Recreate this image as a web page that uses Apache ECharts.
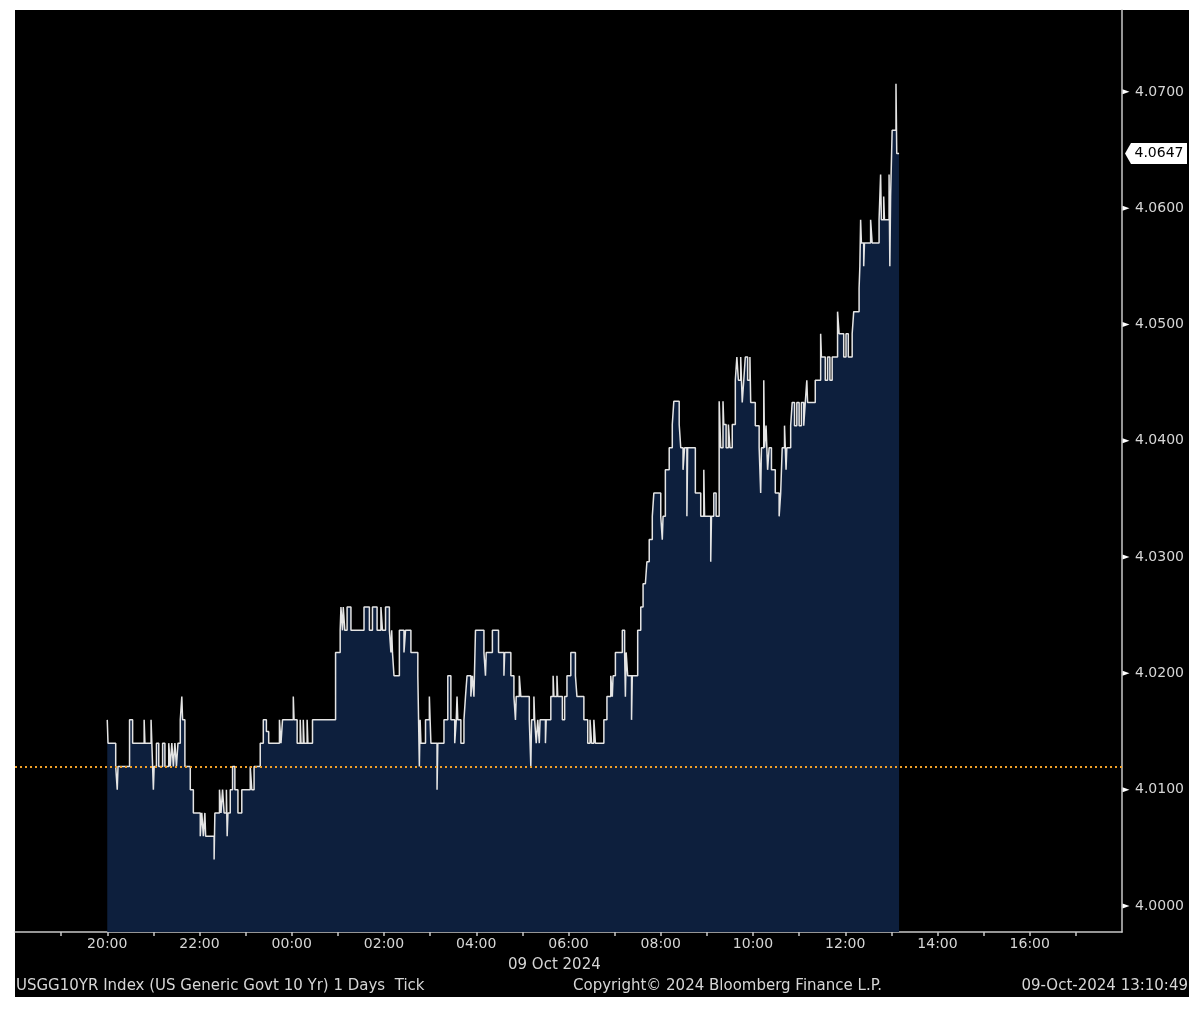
<!DOCTYPE html>
<html>
<head>
<meta charset="utf-8">
<script src="https://cdn.jsdelivr.net/npm/echarts@6/dist/echarts.min.js"></script>
<style>
  html, body { margin:0; padding:0; background:#ffffff; }
  #bg { position:absolute; left:15px; top:10px; width:1174px; height:987px; background:#000000; }
  #chart { position:absolute; left:0; top:0; width:1200px; height:1021px; }
</style>
</head>
<body>
<div id="bg"></div>
<div id="chart"></div>
<script>
// Tick times (local clock, session starts 20:00 on 08 Oct, ends 13:10 on 09 Oct)
const times = [
 '20:00','20:01','20:11','20:13','20:14','20:29','20:33','20:48','20:49','20:57','20:58',
 '21:00','21:01','21:04','21:07','21:12','21:15','21:20','21:22','21:24','21:26','21:28','21:30','21:32','21:35','21:37','21:38','21:41','21:48','21:52',
 '22:01','22:03','22:05','22:07','22:08','22:19','22:20','22:26','22:28','22:30','22:32','22:35','22:36','22:37','22:40','22:43','22:46','22:50','22:55',
 '23:06','23:08','23:11','23:19','23:23','23:27','23:30','23:44','23:46','23:48',
 '00:02','00:03','00:07','00:11','00:12','00:15','00:16','00:20','00:21','00:27','00:57',
 '01:03','01:04','01:06','01:07','01:09','01:12','01:17','01:34','01:41','01:45','01:51','01:56','01:58',
 '02:02','02:07','02:09','02:10','02:11','02:13','02:20','02:26','02:28','02:35','02:44','02:46','02:47','02:48','02:54','02:59',
 '03:00','03:01','03:09','03:10','03:18','03:23','03:27','03:32','03:34','03:35','03:36','03:40','03:44','03:46','03:48','03:53','03:55','03:57','03:59',
 '04:10','04:12','04:13','04:21','04:29','04:36','04:37','04:45','04:49','04:51','04:52','04:56','04:58',
 '05:09','05:11','05:12','05:15','05:16','05:18','05:20','05:22','05:23','05:30','05:31','05:37','05:40','05:41','05:45','05:46','05:52','05:55','05:58',
 '06:03','06:09','06:11','06:20','06:25','06:28','06:30','06:33','06:35','06:46','06:50','06:55','06:57','06:58',
 '07:01','07:10','07:13','07:14','07:15','07:17','07:22','07:23','07:30','07:34','07:37','07:40','07:42','07:45','07:49','07:51',
 '08:00','08:02','08:03','08:06','08:11','08:15','08:17','08:24','08:26','08:29','08:31','08:34','08:35','08:45','08:52','08:56','08:57',
 '09:05','09:06','09:09','09:12','09:16','09:18','09:21','09:22','09:25','09:28','09:30','09:33','09:37','09:39','09:41','09:44','09:46','09:48','09:50','09:53','09:56','09:57',
 '10:03','10:08','10:10','10:11','10:14','10:15','10:17','10:19','10:21','10:24','10:29','10:34','10:36','10:38','10:41','10:43','10:44','10:49','10:51','10:54','10:57',
 '11:00','11:03','11:06','11:08','11:10','11:11','11:21','11:28','11:29','11:34','11:37','11:40','11:43','11:50','11:52','11:58',
 '12:01','12:04','12:09','12:11','12:18','12:19','12:20','12:21','12:24','12:25','12:33','12:35','12:44','12:46','12:47','12:50','12:51','12:57','12:58','12:59',
 '13:01','13:06','13:07','13:10'
];
// Yield at each tick time (held until the next tick)
const yields = [
 4.016,4.014,4.012,4.010,4.012,4.016,4.014,4.016,4.014,4.016,4.014,
 4.010,4.012,4.014,4.012,4.014,4.012,4.014,4.012,4.014,4.012,4.014,4.012,4.014,4.016,4.018,4.016,4.012,4.010,4.008,
 4.006,4.008,4.006,4.008,4.006,4.004,4.008,4.010,4.008,4.010,4.008,4.010,4.006,4.008,4.010,4.012,4.010,4.008,4.010,
 4.012,4.010,4.012,4.014,4.016,4.015,4.014,4.016,4.014,4.016,
 4.018,4.016,4.014,4.016,4.014,4.016,4.014,4.016,4.014,4.016,4.0218,
 4.0237,4.0257,4.0237,4.0257,4.0237,4.0257,4.0237,4.0257,4.0237,4.0257,4.0237,4.0257,4.0237,
 4.0257,4.0237,4.0218,4.0237,4.0218,4.0198,4.0237,4.0218,4.0237,4.0218,4.0198,4.012,4.016,4.014,4.016,4.018,
 4.016,4.014,4.010,4.014,4.016,4.0198,4.016,4.014,4.016,4.018,4.016,4.014,4.016,4.018,4.0198,4.018,4.0198,4.018,4.0237,
 4.0218,4.0198,4.0218,4.0237,4.0218,4.0198,4.0218,4.0198,4.018,4.016,4.018,4.0198,4.018,
 4.016,4.012,4.016,4.018,4.016,4.014,4.016,4.014,4.016,4.014,4.016,4.018,4.0198,4.018,4.0198,4.018,4.016,4.018,4.0198,
 4.0218,4.0198,4.018,4.016,4.014,4.016,4.014,4.016,4.014,4.016,4.018,4.0198,4.018,4.0198,
 4.0218,4.0237,4.0218,4.018,4.0218,4.0198,4.016,4.0198,4.0237,4.0257,4.0277,4.0277,4.0296,4.0315,4.0335,4.0355,
 4.0335,4.0315,4.0335,4.0375,4.0394,4.0414,4.0434,4.0414,4.0394,4.0375,4.0394,4.0335,4.0394,4.0355,4.0335,4.0375,4.0335,
 4.0296,4.0335,4.0355,4.0335,4.0434,4.0394,4.0434,4.0414,4.0394,4.0414,4.0394,4.0414,4.0452,4.0472,4.0452,4.0472,4.0433,4.0452,4.0472,4.0452,4.0472,4.0433,
 4.0413,4.0394,4.0355,4.0394,4.0452,4.0394,4.0413,4.0375,4.0394,4.0375,4.0355,4.0335,4.0355,4.0394,4.0413,4.0375,4.0394,4.0413,4.0433,4.0413,4.0433,
 4.0413,4.0433,4.0413,4.0433,4.0452,4.0433,4.0452,4.0492,4.0472,4.0452,4.0472,4.0452,4.0472,4.0511,4.0492,4.0472,
 4.0492,4.0472,4.0492,4.0511,4.0531,4.055,4.059,4.057,4.055,4.057,4.059,4.057,4.059,4.0629,4.059,4.061,4.059,4.0629,4.055,4.061,
 4.0667,4.0707,4.0647,4.0647
];
const yTickValues = [4.00, 4.01, 4.02, 4.03, 4.04, 4.05, 4.06, 4.07];
const prevClose = 4.012;
const lastYield = 4.0647;
const axisStartHour = 18;          // x axis runs 18:00 -> 18:00 next day
const dateLabel = '09 Oct 2024';
const footerLeft = 'USGG10YR Index (US Generic Govt 10 Yr) 1 Days  Tick';
const footerMid = 'Copyright\u00A9 2024 Bloomberg Finance L.P.';
const footerRight = '09-Oct-2024 13:10:49';

function toAxis(t) {
  const [h, m] = t.split(':').map(Number);
  return ((h * 60 + m) - axisStartHour * 60 + 1440) % 1440;
}
const seriesData = times.map((t, i) => [toAxis(t), yields[i]]);
const X_MAX = 1440;

const FONT = 'DejaVu Sans';
const TXT = '#d6d6d6';

// small tick markers on the right axis (placed through the axis scales)
const tickMarks = yTickValues.map(v => ({
  coord: [X_MAX, v],
  symbol: 'path://M0,0 L7,2.5 L0,5 Z',
  symbolSize: [7, 5],
  symbolKeepAspect: false,
  symbolOffset: [4, 0],
  itemStyle: { color: '#ffffff' },
  label: { show: false }
}));
const lastMark = {
  coord: [X_MAX, lastYield],
  symbol: 'path://M0,10.5 L6,0 L62,0 L62,21 L6,21 Z',
  symbolSize: [62, 21],
  symbolKeepAspect: false,
  symbolOffset: [34, 0],
  itemStyle: { color: '#ffffff' },
  label: { show: true, position: 'inside', offset: [3, 0], color: '#000000', fontFamily: FONT, fontSize: 14,
           formatter: () => lastYield.toFixed(4) }
};

const chart = echarts.init(document.getElementById('chart'), null, { renderer: 'canvas' });
chart.setOption({
  animation: false,
  backgroundColor: 'transparent',
  grid: { left: 15, right: 78, top: 10, bottom: 89, containLabel: false },
  xAxis: {
    type: 'value', min: 0, max: X_MAX, interval: 60,
    axisLine: { show: true, onZero: false, lineStyle: { color: '#c8c8c8', width: 1.5 } },
    axisTick: { show: true, length: 4, lineStyle: { color: '#c8c8c8', width: 1.5 } },
    splitLine: { show: false },
    axisLabel: {
      color: TXT, fontFamily: FONT, fontSize: 14, margin: 5,
      showMinLabel: false, showMaxLabel: false,
      formatter: v => {
        const c = (axisStartHour * 60 + v) % 1440;
        const h = Math.round(c / 60);
        return (h % 2 === 0) ? String(h).padStart(2, '0') + ':00' : '';
      }
    }
  },
  yAxis: {
    type: 'value', position: 'right', min: 3.99776, max: 4.07704, splitNumber: 8,
    axisLine: { show: true, onZero: false, lineStyle: { color: '#c8c8c8', width: 1.5 } },
    axisTick: { show: false },
    splitLine: { show: false },
    axisLabel: {
      color: TXT, fontFamily: FONT, fontSize: 14, margin: 13,
      customValues: yTickValues,
      formatter: v => v.toFixed(4)
    }
  },
  series: [{
    type: 'line',
    data: seriesData,
    step: 'end',
    symbol: 'none',
    clip: false,
    lineStyle: { color: '#e4e4e4', width: 1.5 },
    areaStyle: { color: '#0d1f3d', opacity: 1 },
    markLine: {
      silent: true, symbol: 'none', precision: 4,
      lineStyle: { color: '#f0a028', type: [2, 3], width: 2 },
      label: { show: false },
      data: [{ yAxis: prevClose }]
    },
    markPoint: {
      silent: true,
      data: tickMarks.concat([lastMark])
    }
  }],
  graphic: [
    { type: 'text', left: 508, top: 958, style: { text: dateLabel, fill: TXT, font: '15px "DejaVu Sans"' } },
    { type: 'text', left: 16, top: 979, style: { text: footerLeft, fill: TXT, font: '15px "DejaVu Sans"' } },
    { type: 'text', left: 573, top: 979, style: { text: footerMid, fill: TXT, font: '15px "DejaVu Sans"' } },
    { type: 'text', right: 12, top: 979, style: { text: footerRight, fill: TXT, font: '15px "DejaVu Sans"' } }
  ]
});
</script>
</body>
</html>
